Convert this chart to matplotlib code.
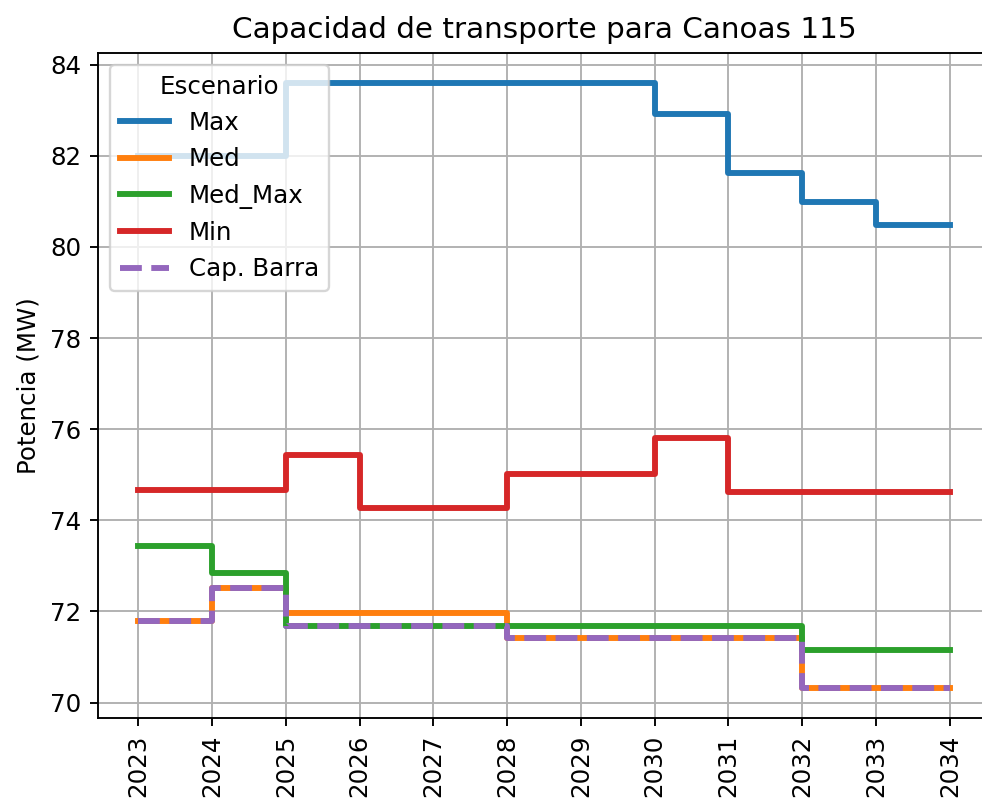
import matplotlib
matplotlib.use('Agg')
import matplotlib.pyplot as plt

# años y escenarios (MW)
years = [2023, 2024, 2025, 2026, 2027, 2028, 2029, 2030, 2031, 2032, 2033, 2034]
cap_max = [82.00, 82.00, 83.60, 83.60, 83.60, 83.60, 83.60, 82.92, 81.63, 80.99, 80.47, 80.47]
cap_med = [71.78, 72.52, 71.97, 71.97, 71.97, 71.41, 71.41, 71.41, 71.41, 70.32, 70.32, 70.32]
cap_med_max = [73.44, 72.84, 71.69, 71.69, 71.69, 71.69, 71.69, 71.69, 71.69, 71.15, 71.15, 71.15]
cap_min = [74.66, 74.66, 75.43, 74.26, 74.26, 75.02, 75.02, 75.81, 74.63, 74.63, 74.63, 74.63]
cap_barra = [71.78, 72.52, 71.69, 71.69, 71.69, 71.41, 71.41, 71.41, 71.41, 70.32, 70.32, 70.32]

plt.rcParams['font.size'] = 10.4

fig = plt.figure(figsize=(982 / 170, 802 / 170), dpi=170)
ax = fig.add_axes([0.0995, 0.1044, 0.909, 0.830])

ax.step(years, cap_max, where='post', lw=2.5, label='Max')
ax.step(years, cap_med, where='post', lw=2.5, label='Med')
ax.step(years, cap_med_max, where='post', lw=2.5, label='Med_Max')
ax.step(years, cap_min, where='post', lw=2.5, label='Min')
ax.step(years, cap_barra, where='post', lw=2.5, ls='--', label='Cap. Barra')

ax.set_xticks(years)
ax.set_xticklabels([str(y) for y in years], rotation=90)
ax.set_ylabel('Potencia (MW)')
ax.set_title('Capacidad de transporte para Canoas 115')
ax.grid(True)
ax.legend(title='Escenario', loc='upper left')

fig.savefig('out.png', dpi=170)
